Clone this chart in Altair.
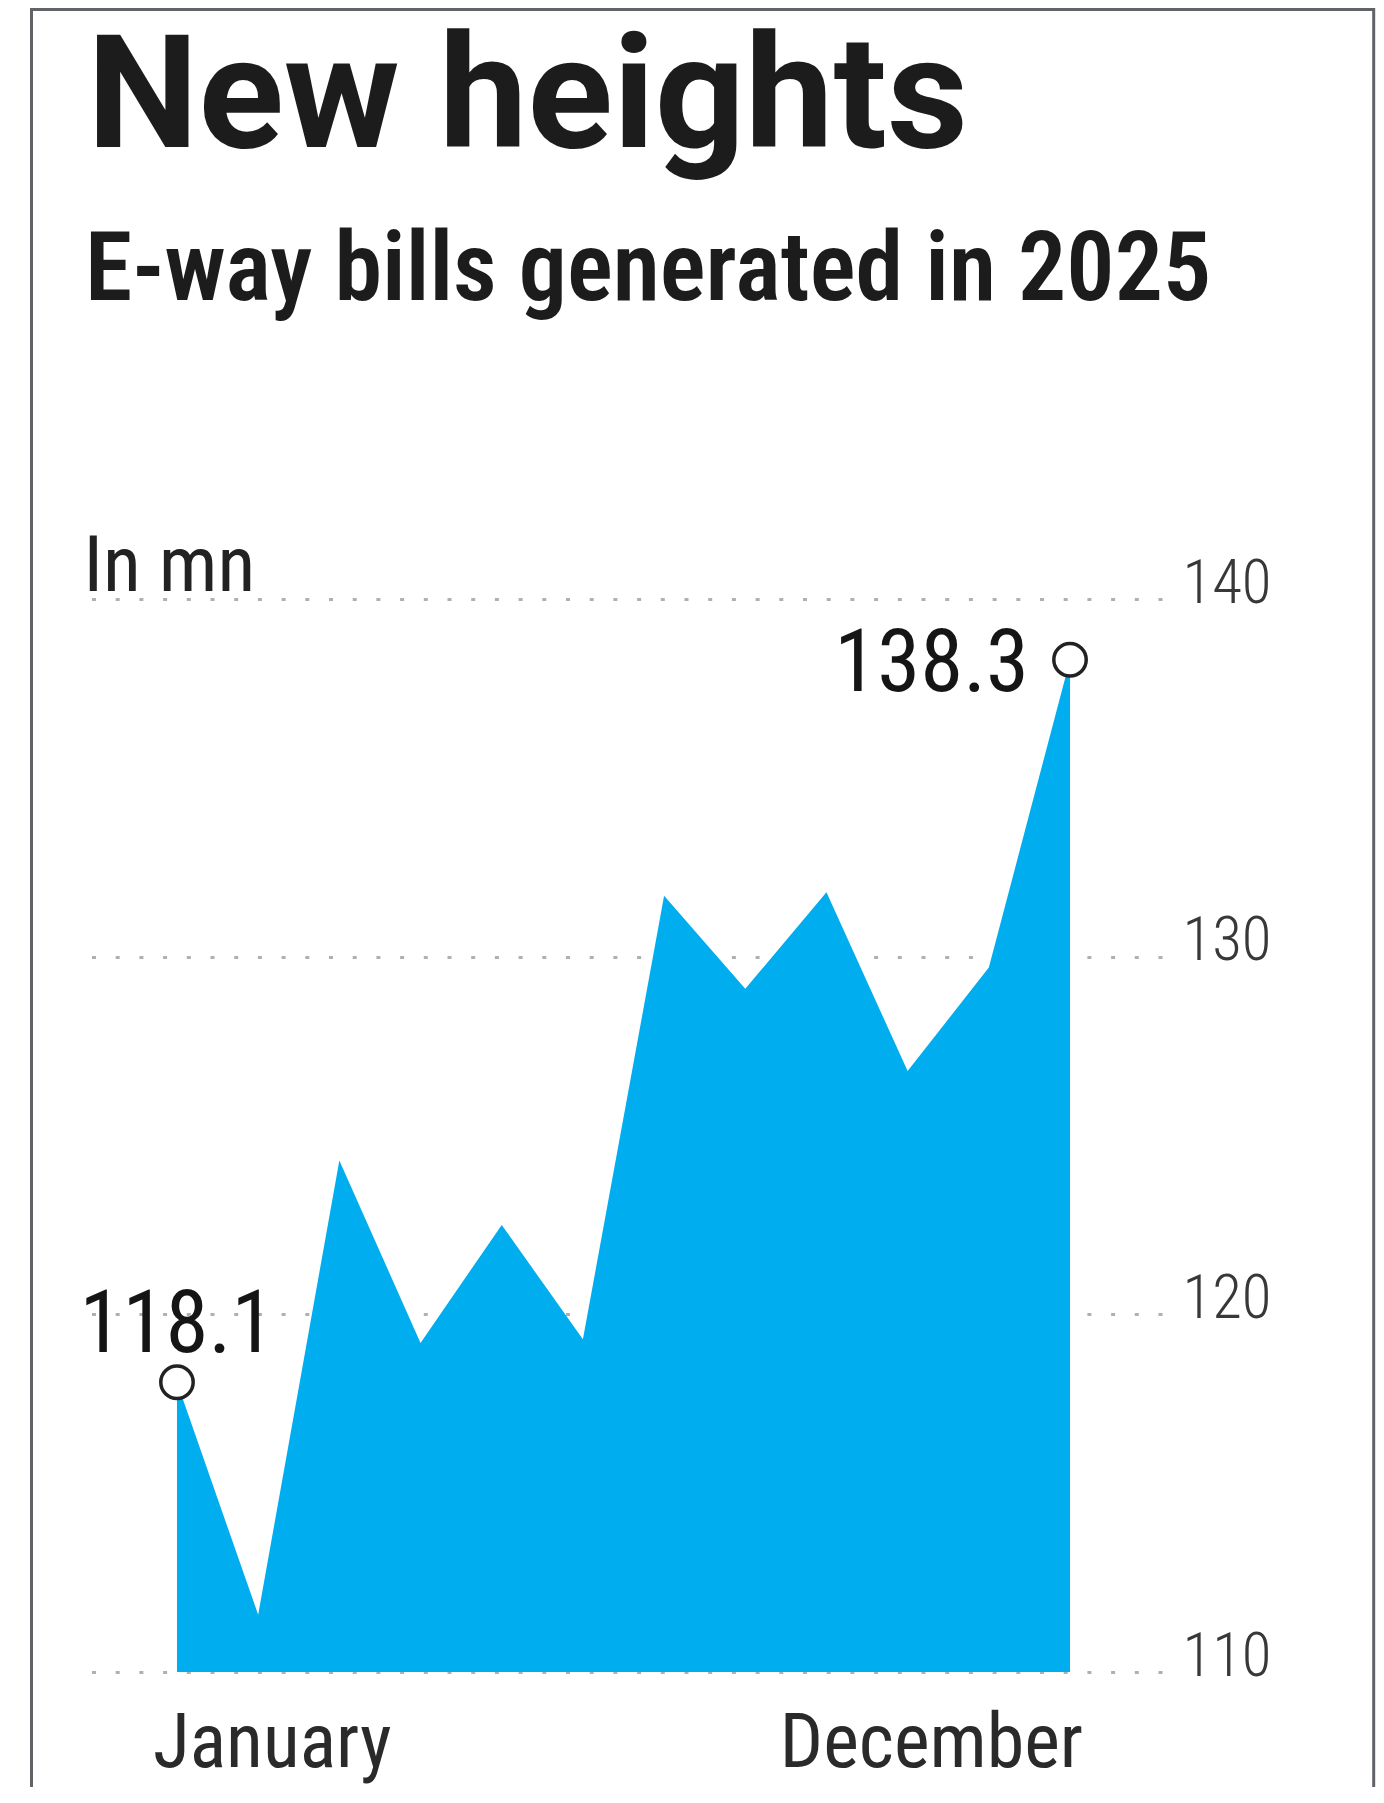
import altair as alt
import pandas as pd

# ---- data ----
MONTHS = list(range(1, 13))
MONTH_NAMES = ["January", "February", "March", "April", "May", "June",
               "July", "August", "September", "October", "November", "December"]
VALUES = [118.1, 111.6, 124.3, 119.2, 122.5, 119.3, 131.7, 129.1, 131.8, 126.8, 129.7, 138.3]
Y_TICKS = [110, 120, 130, 140]
TITLE = ["New heights"]
SUBTITLE = ["E-way bills generated in 2025"]
UNIT = "In mn"
FRAME = [0]

df = pd.DataFrame({"m": MONTHS, "name": MONTH_NAMES, "v": VALUES})

W, H = 1074, 1073
COND = "Roboto Condensed, Roboto, sans-serif"
BLUE = "#00AEEF"

x_enc = alt.X("m:Q", scale=alt.Scale(domain=[-0.096, 13.133], nice=False, zero=False), axis=None)
y_enc = alt.Y(
    "v:Q",
    scale=alt.Scale(domain=[Y_TICKS[0], Y_TICKS[-1]], nice=False, zero=False),
    axis=alt.Axis(
        orient="right", values=Y_TICKS, grid=True, gridDash=[4, 19.7], gridColor="#b0b0b0",
        gridWidth=3, domain=False, ticks=False, labelFont=COND, labelFontSize=61,
        labelFontWeight=300, labelColor="#383838", labelPadding=20,
        labelBaseline="alphabetic", labelOffset=3, labelFlush=False, labelOverlap=False,
        title=UNIT, titleAngle=0, titleX=-1079, titleY=-9, titleAlign="left",
        titleBaseline="alphabetic", titleFont=COND, titleFontSize=78,
        titleFontWeight="normal", titleColor="#222222",
    ),
)

base = alt.Chart(df).encode(x=x_enc, y=y_enc)

area = base.mark_area(color=BLUE, opacity=1).encode(y2=alt.datum(Y_TICKS[0]))

ends = base.transform_filter(alt.FieldOneOfPredicate(field="m", oneOf=[MONTHS[0], MONTHS[-1]]))
points = ends.mark_point(shape="circle", filled=True, fill="white", stroke="#222222",
                         strokeWidth=3.5, size=1050, opacity=1)

first = base.transform_filter(alt.datum.m == MONTHS[0])
last = base.transform_filter(alt.datum.m == MONTHS[-1])

lab_first = first.mark_text(font=COND, fontSize=87, color="#151515", align="center",
                            baseline="alphabetic", dy=-30).encode(text=alt.Text("v:Q", format=".1f"))
lab_last = last.mark_text(font=COND, fontSize=87, color="#151515", align="right",
                          baseline="alphabetic", dx=-41, dy=31).encode(text=alt.Text("v:Q", format=".1f"))

xlab_first = first.mark_text(font=COND, fontSize=76, color="#2a2a2a", align="left",
                             baseline="alphabetic", dx=-24).encode(y=alt.value(1168), text="name:N")
xlab_last = last.mark_text(font=COND, fontSize=76, color="#2a2a2a", align="right",
                           baseline="alphabetic", dx=13).encode(y=alt.value(1168), text="name:N")

title = alt.Chart(pd.DataFrame({"t": TITLE})).mark_text(
    font="Roboto", fontWeight="bold", fontSize=158, color="#1c1c1c", align="left", baseline="alphabetic"
).encode(x=alt.value(-1), y=alt.value(-452), text="t:N")

subtitle = alt.Chart(pd.DataFrame({"t": SUBTITLE})).mark_text(
    font=COND, fontWeight=600, fontSize=96, color="#1c1c1c", align="left", baseline="alphabetic"
).encode(x=alt.value(-3), y=alt.value(-299), text="t:N")

frame = alt.Chart(pd.DataFrame({"k": FRAME})).mark_rect(
    filled=False, stroke="#606367", strokeWidth=3
).encode(x=alt.value(-56.5), x2=alt.value(1285.7), y=alt.value(-589.5), y2=alt.value(1300))

chart = alt.layer(
    frame, area, points, lab_first, lab_last, xlab_first, xlab_last, title, subtitle
).properties(
    width=W, height=H,
    padding={"left": 80, "top": 591, "right": 214, "bottom": 115},
    autosize=alt.AutoSizeParams(type="none"),
    background="white",
).configure_view(strokeWidth=0)

chart.save("out.html", embed_options={"renderer": "svg", "actions": False})
